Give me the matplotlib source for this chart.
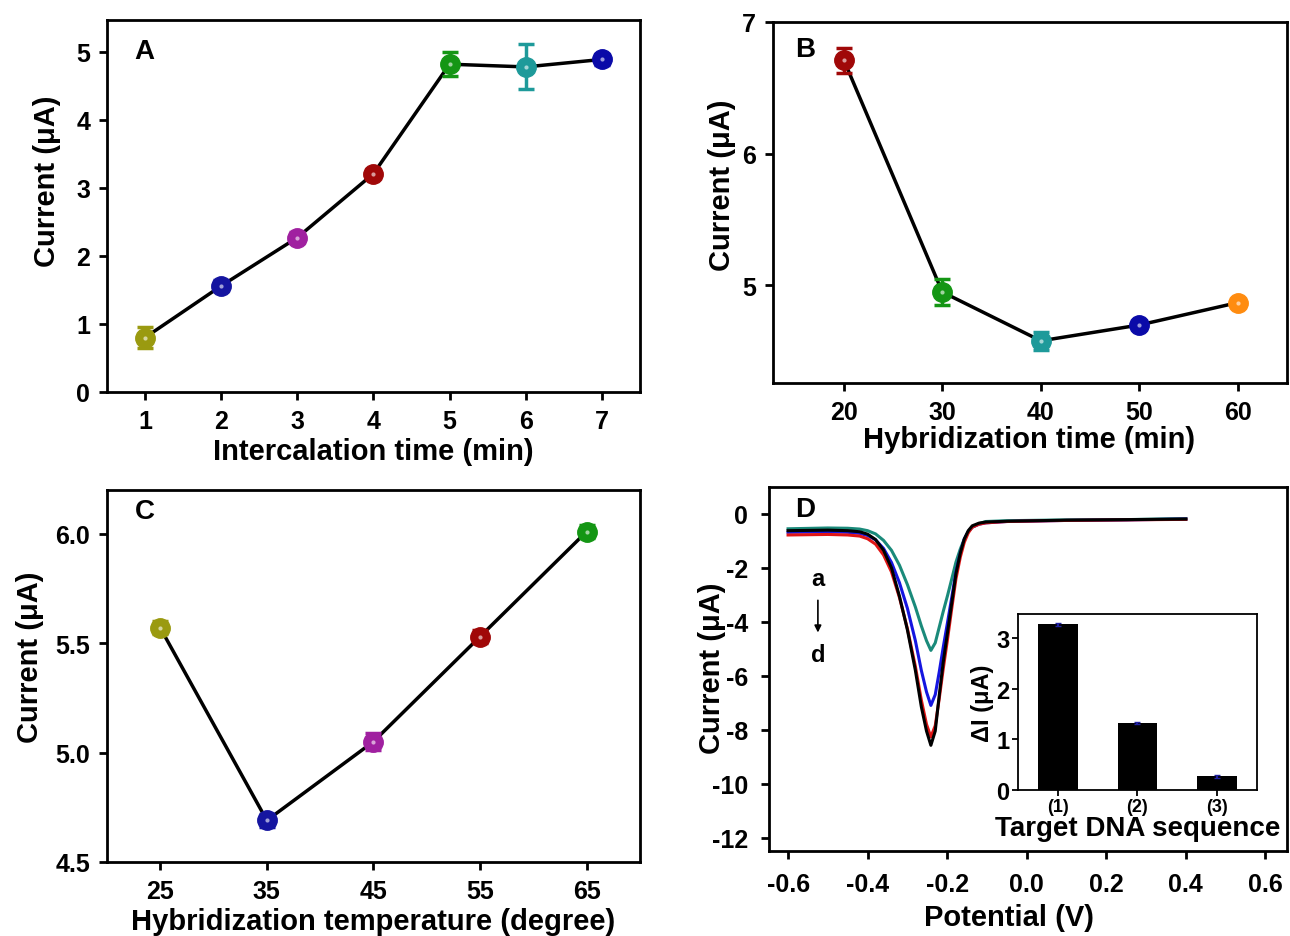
import matplotlib
matplotlib.use("Agg")
import matplotlib.pyplot as plt
from matplotlib.ticker import FormatStrFormatter

plt.rcParams['font.family'] = ['Liberation Sans', 'DejaVu Sans']
plt.rcParams['font.weight'] = 'bold'
plt.rcParams['axes.labelweight'] = 'bold'
plt.rcParams['axes.unicode_minus'] = False

# panel A - intercalation time
a_time = [1, 2, 3, 4, 5, 6, 7]
a_current = [0.80, 1.56, 2.27, 3.21, 4.82, 4.78, 4.89]
a_err = [0.15, 0.08, 0.08, 0.07, 0.18, 0.33, 0.08]
a_colors = ['#9A9A10', '#1515A0', '#A020A0', '#A00808', '#149614', '#1E9A9A', '#0A0AA8']

# panel B - hybridization time
b_time = [20, 30, 40, 50, 60]
b_current = [6.71, 4.95, 4.58, 4.70, 4.87]
b_err = [0.095, 0.10, 0.07, 0.03, 0.03]
b_colors = ['#A00808', '#149614', '#1E9A9A', '#0A0AA8', '#FF8C10']

# panel C - hybridization temperature
c_temp = [25, 35, 45, 55, 65]
c_current = [5.57, 4.69, 5.05, 5.53, 6.01]
c_err = [0.03, 0.03, 0.04, 0.03, 0.03]
c_colors = ['#9A9A10', '#1515A0', '#A020A0', '#A00808', '#149614']

# panel D - DPV curves
potential = [-0.60, -0.50, -0.45, -0.42, -0.40, -0.38, -0.36, -0.34, -0.32, -0.30,
             -0.28, -0.265, -0.252, -0.241, -0.23, -0.22, -0.21, -0.199, -0.188,
             -0.178, -0.167, -0.157, -0.147, -0.137, -0.12, -0.103, -0.05, 0.10,
             0.25, 0.40]
curve_teal = [-0.55, -0.52, -0.53, -0.56, -0.62, -0.74, -0.98, -1.35, -1.90, -2.62,
              -3.45, -4.15, -4.70, -5.06, -4.78, -4.20, -3.62, -3.02, -2.38,
              -1.79, -1.30, -0.93, -0.66, -0.49, -0.36, -0.28, -0.25, -0.22,
              -0.21, -0.17]
curve_blue = [-0.68, -0.66, -0.68, -0.72, -0.80, -0.96, -1.28, -1.80, -2.55, -3.50,
              -4.70, -5.80, -6.60, -7.10, -6.70, -5.86, -4.95, -4.01, -3.05,
              -2.16, -1.45, -0.93, -0.65, -0.49, -0.38, -0.33, -0.28, -0.24,
              -0.22, -0.19]
curve_red = [-0.78, -0.76, -0.78, -0.82, -0.92, -1.12, -1.52, -2.15, -3.10, -4.25,
             -5.65, -6.90, -7.80, -8.27, -7.85, -6.85, -5.75, -4.63, -3.45,
             -2.41, -1.60, -1.05, -0.70, -0.49, -0.38, -0.33, -0.28, -0.24,
             -0.22, -0.20]
curve_black = [-0.62, -0.60, -0.62, -0.66, -0.75, -0.95, -1.35, -2.00, -3.05, -4.30,
               -5.80, -7.15, -8.05, -8.58, -8.05, -6.73, -5.50, -4.38, -3.25,
               -2.22, -1.45, -0.93, -0.62, -0.44, -0.34, -0.30, -0.27, -0.23,
               -0.21, -0.19]

# inset - target DNA sequences
seq_labels = ['(1)', '(2)', '(3)']
delta_i = [3.27, 1.33, 0.27]
delta_err = [0.03, 0.02, 0.03]

TICK = 18
LABEL = 21


def style_axes(ax, pad=6):
    for s in ax.spines.values():
        s.set_linewidth(2)
    ax.tick_params(direction='out', length=6, width=2, labelsize=TICK, pad=pad)


def place_labels(ax, xl, yl):
    ax.xaxis.label.set_va('center')
    ax.yaxis.label.set_va('center')
    ax.xaxis.set_label_coords(*xl)
    ax.yaxis.set_label_coords(*yl)


def point_series(ax, x, y, err, colors):
    ax.plot(x, y, color='black', lw=2.5, zorder=2)
    for xi, yi, ei, c in zip(x, y, err, colors):
        ax.errorbar(xi, yi, yerr=ei, fmt='o', color=c, ms=14, capsize=6,
                    elinewidth=2.5, capthick=2.5, zorder=3)
        ax.plot(xi, yi, 'o', color='white', ms=3, alpha=0.6, zorder=4,
                markeredgewidth=0)


fig = plt.figure(figsize=(12.9, 9.37), dpi=100)

# A
ax = fig.add_axes([0.0829, 0.5806, 0.4132, 0.397])
point_series(ax, a_time, a_current, a_err, a_colors)
ax.set_xlim(0.5, 7.5)
ax.set_ylim(0, 5.47)
ax.set_xticks(a_time)
ax.set_yticks([0, 1, 2, 3, 4, 5])
ax.set_xlabel('Intercalation time (min)', fontsize=LABEL)
ax.set_ylabel('Current (μA)', fontsize=LABEL)
place_labels(ax, (0.5, -0.159), (-0.112, 0.57))
ax.text(0.071, 0.917, 'A', transform=ax.transAxes, fontsize=20,
        ha='center', va='center')
style_axes(ax)

# B
ax = fig.add_axes([0.5992, 0.5902, 0.3985, 0.3853])
point_series(ax, b_time, b_current, b_err, b_colors)
ax.set_xlim(12.8, 65)
ax.set_ylim(4.26, 7.0)
ax.set_xticks(b_time)
ax.set_yticks([5, 6, 7])
ax.set_xlabel('Hybridization time (min)', fontsize=LABEL)
ax.set_ylabel('Current (μA)', fontsize=LABEL)
place_labels(ax, (0.498, -0.155), (-0.099, 0.551))
ax.text(0.062, 0.925, 'B', transform=ax.transAxes, fontsize=20,
        ha='center', va='center')
style_axes(ax)

# C
ax = fig.add_axes([0.0829, 0.079, 0.4132, 0.397])
point_series(ax, c_temp, c_current, c_err, c_colors)
ax.set_xlim(20, 70)
ax.set_ylim(4.5, 6.2)
ax.set_xticks(c_temp)
ax.set_yticks([4.5, 5.0, 5.5, 6.0])
ax.yaxis.set_major_formatter(FormatStrFormatter('%.1f'))
ax.set_xlabel('Hybridization temperature (degree)', fontsize=LABEL)
ax.set_ylabel('Current (μA)', fontsize=LABEL)
place_labels(ax, (0.5, -0.159), (-0.145, 0.554))
ax.text(0.071, 0.944, 'C', transform=ax.transAxes, fontsize=20,
        ha='center', va='center')
style_axes(ax)

# D
ax = fig.add_axes([0.5961, 0.0907, 0.4015, 0.3885])
ax.plot(potential, curve_teal, color='#1A8A7A', lw=2.2)
ax.plot(potential, curve_blue, color='#1515E0', lw=2.2)
ax.plot(potential, curve_red, color='#E01515', lw=2.2)
ax.plot(potential, curve_black, color='black', lw=2.2)
ax.set_xlim(-0.648, 0.654)
ax.set_ylim(-12.5, 1.0)
ax.set_xticks([-0.6, -0.4, -0.2, 0.0, 0.2, 0.4, 0.6])
ax.set_yticks([0, -2, -4, -6, -8, -10, -12])
ax.xaxis.set_major_formatter(FormatStrFormatter('%.1f'))
ax.set_xlabel('Potential (V)', fontsize=LABEL)
ax.set_ylabel('Current (μA)', fontsize=LABEL)
place_labels(ax, (0.463, -0.181), (-0.11, 0.505))
ax.text(0.069, 0.94, 'D', transform=ax.transAxes, fontsize=20,
        ha='center', va='center')
ax.text(-0.525, -2.4, 'a', fontsize=17, ha='center', va='center')
ax.text(-0.525, -5.2, 'd', fontsize=17, ha='center', va='center')
ax.annotate('', xy=(-0.525, -4.5), xytext=(-0.525, -3.1),
            arrowprops=dict(arrowstyle='-|>', color='black', lw=1.2,
                            mutation_scale=10))
style_axes(ax, pad=9)

# inset
ins = fig.add_axes([0.7891, 0.1558, 0.1853, 0.1878])
pos = [1, 2, 3]
ins.bar(pos, delta_i, width=0.5, color='black', zorder=2)
ins.errorbar(pos, delta_i, yerr=delta_err, fmt='none', ecolor='#2020A0',
             elinewidth=1.5, capsize=2, zorder=3)
ins.set_xlim(0.5, 3.5)
ins.set_ylim(0, 3.47)
ins.set_xticks(pos)
ins.set_xticklabels(seq_labels)
ins.set_yticks([0, 1, 2, 3])
for s in ins.spines.values():
    s.set_linewidth(1.3)
ins.tick_params(axis='y', direction='out', length=4, width=1.3, labelsize=17, pad=2)
ins.tick_params(axis='x', direction='out', length=4, width=1.3, labelsize=13, pad=2)
ins.set_xlabel('Target DNA sequence', fontsize=20, labelpad=0)
ins.set_ylabel('ΔI (μA)', fontsize=17, labelpad=2)

fig.savefig('out.png', dpi=100)
